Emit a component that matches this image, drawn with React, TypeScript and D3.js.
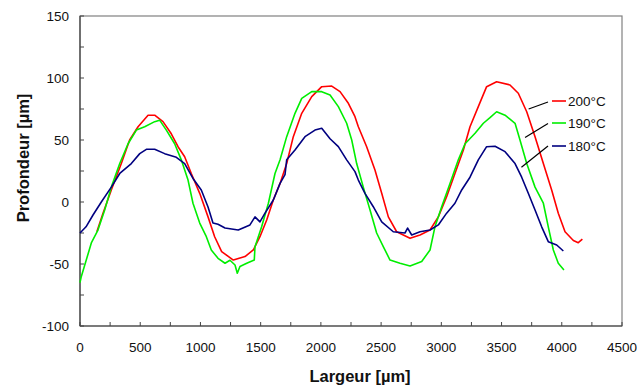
import React from 'react';
import * as d3 from 'd3';

// profile readings (x in µm, y in µm)
const x200 = [140, 191, 260, 343, 412, 482, 565, 620, 689, 758, 814, 869, 924, 994, 1063, 1118, 1176, 1273, 1370, 1439, 1494, 1550, 1605, 1661, 1716, 1771, 1841, 1924, 2007, 2090, 2159, 2228, 2283, 2311, 2380, 2449, 2505, 2560, 2629, 2740, 2823, 2906, 2975, 3044, 3113, 3183, 3238, 3307, 3376, 3459, 3570, 3639, 3709, 3778, 3847, 3916, 3971, 4027, 4096, 4137, 4171];
const y200 = [-24, -9, 9.7, 31, 50, 60.7, 70, 70, 64.8, 55, 44.6, 36.5, 23, 7, -12, -28, -40, -46.8, -44, -38.7, -28, -14.5, 1.6, 15, 31, 52.7, 71.5, 85, 93, 93.5, 89, 79.6, 68.8, 60.7, 44.6, 25.8, 7, -12, -24, -29.3, -26.6, -22.6, -12, 4.3, 23, 42, 60.7, 76.9, 93, 97, 94.4, 87.7, 72.8, 52.7, 31, 9.7, -9, -24, -31, -32.8, -30];

const x190 = [0, 11, 52, 94, 149, 205, 260, 330, 399, 468, 537, 620, 661, 717, 786, 841, 897, 938, 994, 1049, 1090, 1146, 1204, 1245, 1287, 1306, 1328, 1384, 1447, 1453, 1508, 1564, 1619, 1661, 1716, 1785, 1841, 1924, 2007, 2076, 2145, 2214, 2256, 2297, 2352, 2408, 2463, 2518, 2574, 2657, 2740, 2837, 2906, 2947, 3003, 3072, 3141, 3197, 3280, 3349, 3404, 3459, 3529, 3612, 3653, 3709, 3778, 3847, 3888, 3930, 3971, 4018];
const y190 = [-65, -60, -46.8, -33, -22.6, -6.5, 12, 31, 47, 58, 60.7, 64.8, 66, 58, 47, 34, 17.7, -1, -17, -28, -38.7, -45.4, -49.4, -47, -50.8, -57.5, -52, -49.4, -46.8, -36, -20, -1, 23, 34, 52.7, 71.5, 83.6, 89, 89, 86.3, 76.9, 63.5, 50, 31, 12, -6.5, -25, -36, -46.8, -49.4, -51.6, -48, -38.7, -20, -3.8, 15, 34, 47, 55.4, 63.5, 68, 72.8, 70, 63.5, 50, 31, 12, -1, -20, -38.7, -49.4, -54.8];

const x180 = [0, 50, 108, 177, 260, 330, 426, 496, 551, 620, 703, 800, 869, 938, 1007, 1063, 1104, 1146, 1204, 1314, 1411, 1453, 1494, 1536, 1605, 1661, 1702, 1716, 1785, 1868, 1951, 2007, 2076, 2145, 2214, 2283, 2311, 2366, 2435, 2505, 2601, 2698, 2720, 2754, 2823, 2906, 2975, 3044, 3113, 3169, 3238, 3307, 3376, 3446, 3529, 3612, 3667, 3722, 3778, 3833, 3888, 3958, 4013];
const y180 = [-25, -20, -10.5, 0, 12, 23, 31, 39, 42.5, 42.5, 39, 36, 31, 19, 9.7, -4, -17, -18, -21, -22.6, -18.5, -12, -16, -9, 1.6, 15, 22, 34, 42, 52.7, 58, 59.4, 51, 44.6, 34, 24.5, 17.7, 7, -3.8, -16, -24, -25, -21, -26.6, -24, -22.6, -18.5, -9, -1, 9.7, 20, 34, 44.6, 45, 40.6, 31, 20, 7, -6.5, -20, -32, -34.7, -39.5];

const seriesNames = ['200°C', '190°C', '180°C'];
const seriesColors = ['#ff0000', '#00ee00', '#000080'];
const xTicks = [0, 500, 1000, 1500, 2000, 2500, 3000, 3500, 4000, 4500];
const yTicks = [-100, -50, 0, 50, 100, 150];
// where each leader line touches its curve
const leaderAnchor = [[3725, 75], [3695, 52], [3665, 28]];

export default function App() {
  const left = 80, right = 622, top = 16, bottom = 326;
  const x = d3.scaleLinear().domain([0, 4500]).range([left, right]);
  const y = d3.scaleLinear().domain([-100, 150]).range([bottom, top]);

  const series = [
    x200.map((v, i) => [v, y200[i]]),
    x190.map((v, i) => [v, y190[i]]),
    x180.map((v, i) => [v, y180[i]]),
  ];
  const line = d3.line<number[]>().x(d => x(d[0])).y(d => y(d[1]));

  const minorX = d3.range(0, 4501, 250);
  const minorY = d3.range(-100, 151, 25);
  const font = 'Arial, "Liberation Sans", sans-serif';
  const legendY = [101, 123, 146];

  return (
    <svg width={637} height={389} style={{ position: 'absolute', left: 0, top: 0, background: '#fff' }}>
      <rect x={left} y={top} width={right - left} height={bottom - top} fill="none" stroke="#808080" strokeWidth={1.2} />
      <line x1={left} y1={top} x2={left} y2={bottom} stroke="#444" strokeWidth={1.2} />
      <line x1={left} y1={bottom} x2={right} y2={bottom} stroke="#444" strokeWidth={1.2} />
      {minorX.map(t => (
        <line key={'mx' + t} x1={x(t)} x2={x(t)} y1={bottom} y2={bottom - 4} stroke="#444" />
      ))}
      {minorY.map(t => (
        <line key={'my' + t} x1={left} x2={left + 4} y1={y(t)} y2={y(t)} stroke="#444" />
      ))}
      {xTicks.map(t => (
        <text key={'tx' + t} x={x(t)} y={352} textAnchor="middle" fontFamily={font} fontSize={13.5} fill="#111">{t}</text>
      ))}
      {yTicks.map(t => (
        <text key={'ty' + t} x={69} y={y(t) + 5} textAnchor="end" fontFamily={font} fontSize={13.5} fill="#111">{t}</text>
      ))}
      {series.map((s, i) => (
        <path key={'s' + i} d={line(s) ?? ''} fill="none" stroke={seriesColors[i]} strokeWidth={1.6} strokeLinejoin="round" />
      ))}
      {seriesNames.map((n, i) => (
        <g key={'lg' + i}>
          <line x1={x(leaderAnchor[i][0])} y1={y(leaderAnchor[i][1])} x2={548} y2={legendY[i] + 1 - i * 0.5} stroke="#000" strokeWidth={1.2} />
          <line x1={552} x2={566} y1={legendY[i]} y2={legendY[i]} stroke={seriesColors[i]} strokeWidth={1.6} />
          <text x={568} y={legendY[i] + 5} fontFamily={font} fontSize={13.5} fill="#111">{n}</text>
        </g>
      ))}
      <text x={360} y={382} textAnchor="middle" fontFamily={font} fontSize={16.5} fontWeight="bold" fill="#111">Largeur [µm]</text>
      <text transform="translate(29,158) rotate(-90)" textAnchor="middle" fontFamily={font} fontSize={16.5} fontWeight="bold" fill="#111">Profondeur [µm]</text>
    </svg>
  );
}
